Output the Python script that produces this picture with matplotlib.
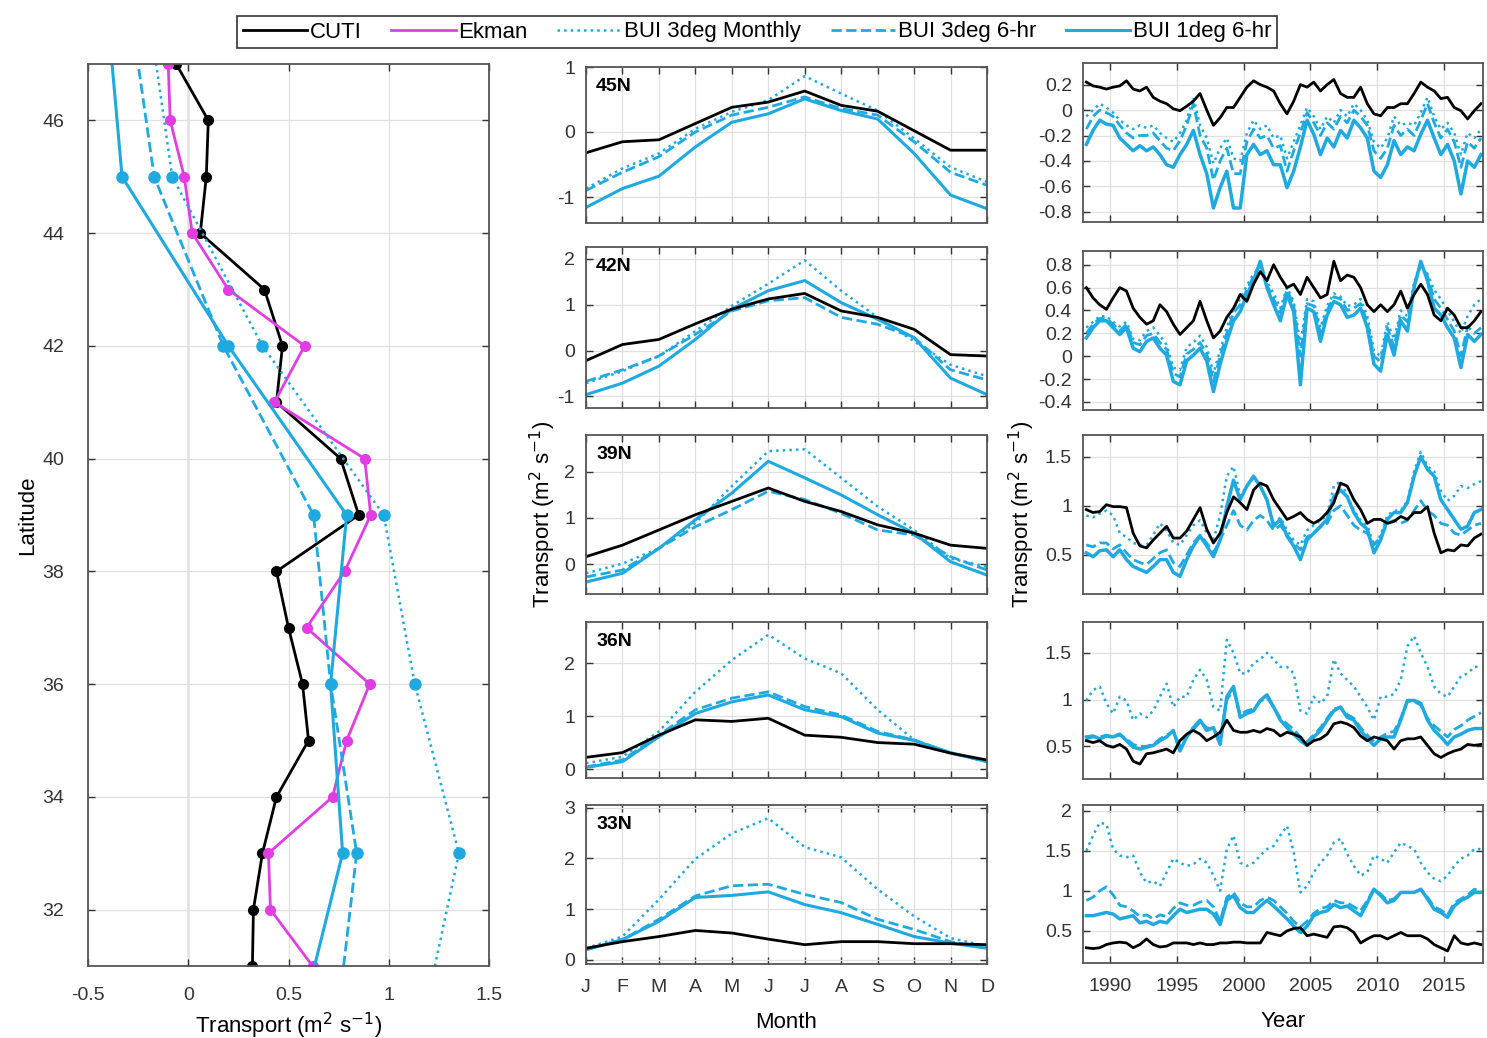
import numpy as np
from matplotlib import pyplot as plt
from matplotlib.lines import Line2D
from matplotlib.ticker import FormatStrFormatter

plt.rcParams['font.family'] = ['Liberation Sans', 'DejaVu Sans']
plt.rcParams['axes.unicode_minus'] = False
plt.rcParams['font.size'] = 14

BLUE = '#1fa9e1'
MAGENTA = '#e23de2'

# ---- left panel: mean transport vs latitude ----
lat_1deg = [31, 32, 33, 34, 35, 36, 37, 38, 39, 40, 41, 42, 43, 44, 45, 46, 47]
cuti_lat = [0.32, 0.325, 0.37, 0.44, 0.60, 0.57, 0.50, 0.44, 0.85, 0.76, 0.44, 0.47, 0.38, 0.06, 0.09, 0.10, -0.06]
ekman_lat = [0.62, 0.41, 0.40, 0.72, 0.79, 0.905, 0.59, 0.78, 0.91, 0.88, 0.43, 0.58, 0.20, 0.02, -0.02, -0.09, -0.10]
lat_3deg = [31, 33, 36, 39, 42, 45, 47]
bui3m_lat = [1.23, 1.35, 1.13, 0.975, 0.37, -0.08, -0.16]
bui3h_lat = [0.775, 0.84, 0.71, 0.625, 0.175, -0.17, -0.25]
bui1h_lat = [0.63, 0.77, 0.71, 0.79, 0.20, -0.33, -0.38]

# ---- middle panels: monthly climatology ----
months = ['J', 'F', 'M', 'A', 'M', 'J', 'J', 'A', 'S', 'O', 'N', 'D']
panel_names = ['45N', '42N', '39N', '36N', '33N']
clim_cuti = [
    [-0.32, -0.15, -0.12, 0.13, 0.38, 0.46, 0.63, 0.41, 0.32, 0.02, -0.28, -0.28],
    [-0.22, 0.13, 0.24, 0.58, 0.90, 1.12, 1.24, 0.86, 0.72, 0.46, -0.09, -0.12],
    [0.16, 0.41, 0.74, 1.07, 1.36, 1.65, 1.36, 1.14, 0.85, 0.67, 0.41, 0.34],
    [0.22, 0.31, 0.64, 0.93, 0.90, 0.96, 0.64, 0.60, 0.50, 0.47, 0.30, 0.17],
    [0.23, 0.36, 0.46, 0.58, 0.53, 0.41, 0.30, 0.36, 0.36, 0.32, 0.32, 0.30],
]
clim_bui3m = [
    [-0.87, -0.56, -0.33, 0.05, 0.31, 0.49, 0.86, 0.59, 0.33, -0.10, -0.54, -0.77],
    [-0.71, -0.45, -0.12, 0.42, 0.97, 1.45, 1.96, 1.30, 0.72, 0.20, -0.31, -0.56],
    [-0.20, 0.01, 0.34, 0.89, 1.69, 2.45, 2.49, 1.87, 1.25, 0.74, 0.12, -0.06],
    [0.11, 0.23, 0.71, 1.46, 2.06, 2.54, 2.09, 1.81, 1.12, 0.55, 0.30, 0.14],
    [0.23, 0.46, 1.19, 1.99, 2.49, 2.79, 2.22, 2.02, 1.39, 0.86, 0.43, 0.27],
]
clim_bui3h = [
    [-0.90, -0.62, -0.38, 0.00, 0.26, 0.38, 0.54, 0.36, 0.26, -0.15, -0.62, -0.82],
    [-0.67, -0.42, -0.12, 0.35, 0.86, 1.08, 1.15, 0.72, 0.57, 0.28, -0.42, -0.64],
    [-0.28, -0.13, 0.34, 0.81, 1.18, 1.58, 1.40, 1.10, 0.74, 0.63, 0.16, -0.13],
    [0.04, 0.17, 0.64, 1.12, 1.34, 1.46, 1.18, 1.02, 0.71, 0.55, 0.30, 0.14],
    [0.20, 0.40, 0.80, 1.26, 1.46, 1.49, 1.29, 1.13, 0.80, 0.60, 0.36, 0.23],
]
clim_bui1h = [
    [-1.16, -0.87, -0.68, -0.23, 0.15, 0.28, 0.51, 0.33, 0.20, -0.33, -0.97, -1.18],
    [-0.96, -0.71, -0.34, 0.24, 0.90, 1.30, 1.52, 1.04, 0.68, 0.28, -0.60, -0.96],
    [-0.39, -0.20, 0.34, 0.96, 1.54, 2.23, 1.87, 1.50, 1.07, 0.67, 0.05, -0.24],
    [0.03, 0.14, 0.61, 1.05, 1.27, 1.40, 1.12, 0.99, 0.68, 0.54, 0.31, 0.14],
    [0.20, 0.40, 0.76, 1.23, 1.27, 1.34, 1.09, 0.93, 0.70, 0.46, 0.33, 0.23],
]
clim_ylims = [(-1.4, 1.0), (-1.25, 2.25), (-0.65, 2.8), (-0.17, 2.78), (-0.08, 3.05)]
clim_yticks = [[-1, 0, 1], [-1, 0, 1, 2], [0, 1, 2], [0, 1, 2], [0, 1, 2, 3]]

# ---- right panels: smoothed time series (half-year samples) ----
years = np.linspace(1988.25, 2017.75, 60)
ts_cuti = [
    [0.22, 0.19, 0.18, 0.165, 0.18, 0.19, 0.23, 0.165, 0.15, 0.18, 0.10, 0.07, 0.05, 0.01, -0.005, 0.03, 0.07, 0.13, 0.0, -0.12,
     -0.06, 0.02, 0.02, 0.10, 0.18, 0.23, 0.20, 0.18, 0.15, 0.05, -0.03, 0.07, 0.20, 0.18, 0.22, 0.15, 0.20, 0.24, 0.13, 0.10,
     0.10, 0.18, 0.05, -0.03, -0.045, 0.02, 0.02, 0.05, 0.05, 0.13, 0.22, 0.18, 0.15, 0.09, 0.10, 0.02, -0.005, -0.07, -0.005, 0.05],
    [0.60, 0.51, 0.45, 0.41, 0.51, 0.60, 0.57, 0.42, 0.34, 0.28, 0.31, 0.45, 0.39, 0.28, 0.19, 0.25, 0.31, 0.48, 0.31, 0.16,
     0.22, 0.34, 0.42, 0.54, 0.48, 0.63, 0.74, 0.66, 0.80, 0.69, 0.60, 0.63, 0.54, 0.69, 0.60, 0.51, 0.54, 0.83, 0.66, 0.71,
     0.69, 0.60, 0.45, 0.39, 0.45, 0.39, 0.45, 0.57, 0.42, 0.54, 0.63, 0.54, 0.36, 0.31, 0.42, 0.36, 0.25, 0.25, 0.31, 0.39],
    [0.96, 0.93, 0.94, 1.01, 0.99, 0.99, 0.98, 0.72, 0.59, 0.57, 0.65, 0.72, 0.79, 0.67, 0.67, 0.74, 0.86, 0.98, 0.76, 0.62,
     0.72, 0.93, 1.09, 1.03, 0.96, 1.16, 1.23, 1.20, 1.06, 0.96, 0.86, 0.89, 0.93, 0.86, 0.82, 0.86, 0.93, 1.03, 1.23, 1.20,
     1.06, 0.96, 0.82, 0.86, 0.86, 0.82, 0.84, 0.89, 0.86, 0.93, 0.93, 0.99, 0.72, 0.52, 0.55, 0.54, 0.60, 0.59, 0.67, 0.71],
    [0.56, 0.54, 0.56, 0.51, 0.49, 0.52, 0.47, 0.34, 0.31, 0.42, 0.43, 0.45, 0.47, 0.43, 0.56, 0.63, 0.67, 0.63, 0.56, 0.60,
     0.65, 0.78, 0.67, 0.65, 0.65, 0.67, 0.65, 0.69, 0.67, 0.61, 0.65, 0.63, 0.60, 0.51, 0.56, 0.58, 0.63, 0.74, 0.76, 0.74,
     0.70, 0.61, 0.56, 0.60, 0.58, 0.56, 0.47, 0.56, 0.58, 0.58, 0.60, 0.51, 0.42, 0.38, 0.42, 0.45, 0.47, 0.52, 0.51, 0.52],
    [0.29, 0.28, 0.29, 0.33, 0.35, 0.36, 0.35, 0.29, 0.33, 0.40, 0.33, 0.30, 0.31, 0.35, 0.35, 0.35, 0.33, 0.35, 0.33, 0.33,
     0.35, 0.35, 0.36, 0.36, 0.35, 0.35, 0.35, 0.48, 0.46, 0.44, 0.50, 0.53, 0.54, 0.44, 0.46, 0.44, 0.42, 0.55, 0.56, 0.54,
     0.48, 0.35, 0.40, 0.44, 0.44, 0.40, 0.44, 0.48, 0.44, 0.44, 0.44, 0.40, 0.33, 0.29, 0.25, 0.44, 0.35, 0.33, 0.35, 0.33],
]
ts_bui3m = [
    [-0.05, 0.0, 0.05, 0.02, -0.02, -0.08, -0.12, -0.15, -0.12, -0.14, -0.12, -0.18, -0.22, -0.25, -0.18, -0.08, 0.10, -0.12, -0.22, -0.42,
     -0.30, -0.22, -0.38, -0.40, -0.18, -0.08, -0.15, -0.12, -0.22, -0.20, -0.38, -0.25, -0.12, 0.02, -0.05, -0.15, -0.05, -0.10, 0.0, -0.05,
     0.05, 0.0, -0.08, -0.25, -0.30, -0.22, -0.05, -0.12, -0.10, -0.12, -0.02, 0.10, -0.05, -0.15, -0.10, -0.18, -0.35, -0.18, -0.22, -0.15],
    [0.25, 0.30, 0.35, 0.35, 0.30, 0.26, 0.30, 0.15, 0.14, 0.22, 0.25, 0.18, 0.10, -0.10, -0.12, 0.08, 0.12, 0.18, 0.08, -0.15,
     0.05, 0.25, 0.42, 0.50, 0.62, 0.72, 0.78, 0.65, 0.55, 0.42, 0.60, 0.48, 0.10, 0.50, 0.48, 0.25, 0.44, 0.55, 0.52, 0.44,
     0.45, 0.50, 0.35, 0.05, 0.0, 0.30, 0.15, 0.40, 0.35, 0.65, 0.80, 0.72, 0.58, 0.50, 0.40, 0.30, 0.20, 0.35, 0.45, 0.50],
    [0.90, 0.88, 0.92, 0.95, 0.90, 0.72, 0.68, 0.62, 0.60, 0.60, 0.70, 0.82, 0.75, 0.62, 0.60, 0.70, 0.80, 0.85, 0.72, 0.65,
     0.90, 1.30, 1.40, 1.10, 1.20, 1.28, 1.20, 1.05, 0.82, 0.88, 0.75, 0.65, 0.60, 0.75, 0.80, 0.85, 0.90, 1.20, 1.25, 1.10,
     0.95, 0.85, 0.80, 0.60, 0.70, 0.90, 0.95, 0.95, 1.05, 1.35, 1.55, 1.40, 1.35, 1.15, 1.05, 1.10, 1.20, 1.18, 1.22, 1.25],
    [0.99, 1.10, 1.14, 0.96, 0.85, 1.03, 0.99, 0.78, 0.85, 0.81, 0.88, 1.03, 1.17, 0.92, 1.03, 1.03, 1.21, 1.32, 1.21, 0.92,
     0.88, 1.64, 1.50, 1.28, 1.28, 1.39, 1.43, 1.50, 1.43, 1.35, 1.35, 1.28, 0.88, 0.85, 1.03, 0.96, 1.03, 1.43, 1.28, 1.21,
     1.14, 1.03, 0.92, 0.78, 1.03, 1.03, 1.06, 1.21, 1.57, 1.68, 1.50, 1.35, 1.14, 1.06, 1.03, 1.14, 1.25, 1.28, 1.35, 1.35],
    [1.50, 1.69, 1.85, 1.83, 1.52, 1.44, 1.42, 1.44, 1.23, 1.10, 1.12, 1.06, 1.23, 1.40, 1.35, 1.31, 1.33, 1.40, 1.35, 1.19,
     1.00, 1.52, 1.69, 1.35, 1.31, 1.35, 1.44, 1.52, 1.56, 1.69, 1.81, 1.48, 0.98, 1.06, 1.23, 1.35, 1.44, 1.60, 1.65, 1.46,
     1.31, 1.19, 1.23, 1.44, 1.40, 1.35, 1.48, 1.60, 1.56, 1.52, 1.35, 1.23, 1.15, 1.12, 1.19, 1.31, 1.40, 1.44, 1.52, 1.52],
]
ts_bui3h = [
    [-0.15, -0.05, 0.0, -0.02, -0.05, -0.12, -0.18, -0.22, -0.20, -0.20, -0.18, -0.24, -0.30, -0.32, -0.24, -0.12, 0.05, -0.20, -0.30, -0.55,
     -0.40, -0.30, -0.50, -0.50, -0.25, -0.15, -0.22, -0.20, -0.30, -0.28, -0.48, -0.32, -0.18, -0.02, -0.10, -0.20, -0.10, -0.15, -0.05, -0.10,
     0.0, -0.05, -0.12, -0.32, -0.38, -0.30, -0.12, -0.20, -0.15, -0.20, -0.08, 0.05, -0.10, -0.22, -0.15, -0.25, -0.45, -0.25, -0.30, -0.22],
    [0.20, 0.28, 0.33, 0.33, 0.28, 0.22, 0.28, 0.12, 0.10, 0.18, 0.20, 0.12, 0.06, -0.15, -0.18, 0.02, 0.06, 0.12, 0.02, -0.22,
     0.0, 0.20, 0.38, 0.45, 0.58, 0.70, 0.80, 0.62, 0.50, 0.38, 0.58, 0.45, 0.0, 0.46, 0.44, 0.20, 0.40, 0.52, 0.50, 0.40,
     0.42, 0.46, 0.30, 0.0, -0.05, 0.25, 0.08, 0.36, 0.30, 0.62, 0.80, 0.70, 0.50, 0.42, 0.32, 0.22, 0.0, 0.26, 0.20, 0.25],
    [0.60, 0.58, 0.62, 0.62, 0.56, 0.60, 0.52, 0.45, 0.42, 0.40, 0.46, 0.52, 0.55, 0.42, 0.38, 0.50, 0.62, 0.70, 0.62, 0.52,
     0.65, 0.80, 0.95, 0.80, 0.75, 0.85, 0.90, 0.85, 0.75, 0.80, 0.70, 0.62, 0.55, 0.68, 0.72, 0.78, 0.82, 0.95, 1.00, 0.90,
     0.80, 0.75, 0.72, 0.60, 0.68, 0.82, 0.85, 0.82, 0.85, 0.95, 1.05, 0.95, 0.90, 0.82, 0.80, 0.72, 0.70, 0.75, 0.80, 0.82],
    [0.58, 0.60, 0.60, 0.62, 0.60, 0.62, 0.58, 0.52, 0.50, 0.50, 0.52, 0.58, 0.62, 0.66, 0.50, 0.60, 0.68, 0.76, 0.70, 0.68,
     0.58, 1.00, 1.10, 0.84, 0.88, 0.90, 0.98, 1.02, 0.92, 0.80, 0.74, 0.68, 0.60, 0.55, 0.62, 0.70, 0.80, 0.90, 0.92, 0.84,
     0.80, 0.70, 0.62, 0.55, 0.60, 0.64, 0.66, 0.80, 0.98, 0.98, 0.94, 0.80, 0.72, 0.66, 0.60, 0.68, 0.72, 0.78, 0.82, 0.86],
    [0.88, 0.92, 1.00, 1.05, 0.95, 0.82, 0.80, 0.75, 0.68, 0.70, 0.65, 0.70, 0.68, 0.78, 0.85, 0.82, 0.82, 0.86, 0.88, 0.80,
     0.62, 0.92, 0.98, 0.85, 0.80, 0.80, 0.88, 0.92, 0.88, 0.80, 0.72, 0.62, 0.55, 0.62, 0.72, 0.78, 0.80, 0.88, 0.85, 0.85,
     0.80, 0.75, 0.88, 1.02, 0.96, 0.88, 0.90, 0.98, 0.98, 0.98, 1.02, 0.92, 0.80, 0.76, 0.70, 0.85, 0.90, 0.95, 1.02, 1.00],
]
ts_bui1h = [
    [-0.27, -0.16, -0.08, -0.11, -0.12, -0.22, -0.27, -0.32, -0.28, -0.32, -0.29, -0.35, -0.43, -0.45, -0.35, -0.27, -0.16, -0.35, -0.50, -0.77,
     -0.61, -0.48, -0.77, -0.77, -0.35, -0.27, -0.35, -0.32, -0.43, -0.43, -0.61, -0.48, -0.29, -0.08, -0.19, -0.35, -0.22, -0.29, -0.16, -0.22,
     -0.08, -0.14, -0.22, -0.48, -0.53, -0.43, -0.24, -0.35, -0.29, -0.32, -0.19, -0.08, -0.22, -0.35, -0.27, -0.40, -0.66, -0.40, -0.45, -0.35],
    [0.16, 0.25, 0.31, 0.31, 0.25, 0.19, 0.25, 0.07, 0.04, 0.13, 0.16, 0.07, 0.01, -0.22, -0.25, -0.04, 0.01, 0.07, -0.04, -0.31,
     -0.07, 0.13, 0.31, 0.39, 0.54, 0.66, 0.83, 0.60, 0.45, 0.31, 0.54, 0.39, -0.25, 0.42, 0.39, 0.13, 0.36, 0.48, 0.45, 0.34,
     0.36, 0.42, 0.25, -0.07, -0.13, 0.19, 0.01, 0.31, 0.22, 0.60, 0.83, 0.66, 0.42, 0.36, 0.25, 0.16, -0.10, 0.19, 0.13, 0.19],
    [0.52, 0.48, 0.54, 0.55, 0.48, 0.55, 0.45, 0.38, 0.35, 0.32, 0.38, 0.45, 0.45, 0.32, 0.28, 0.45, 0.59, 0.69, 0.59, 0.48,
     0.65, 0.99, 1.26, 1.06, 1.20, 1.30, 1.20, 1.06, 0.79, 0.86, 0.69, 0.59, 0.45, 0.65, 0.72, 0.79, 0.86, 1.09, 1.16, 1.09,
     0.93, 0.82, 0.76, 0.52, 0.65, 0.86, 0.93, 0.93, 1.03, 1.30, 1.50, 1.37, 1.30, 1.06, 0.96, 0.86, 0.76, 0.79, 0.93, 0.96],
    [0.60, 0.61, 0.58, 0.61, 0.60, 0.63, 0.56, 0.49, 0.47, 0.49, 0.51, 0.56, 0.60, 0.67, 0.45, 0.60, 0.70, 0.78, 0.67, 0.70,
     0.52, 1.03, 1.14, 0.81, 0.85, 0.88, 0.99, 1.05, 0.92, 0.78, 0.70, 0.63, 0.56, 0.51, 0.60, 0.67, 0.78, 0.88, 0.92, 0.81,
     0.78, 0.67, 0.58, 0.51, 0.58, 0.60, 0.60, 0.78, 0.99, 0.99, 0.96, 0.78, 0.67, 0.60, 0.52, 0.60, 0.63, 0.67, 0.69, 0.69],
    [0.69, 0.69, 0.71, 0.73, 0.71, 0.65, 0.67, 0.69, 0.60, 0.62, 0.58, 0.62, 0.60, 0.69, 0.77, 0.73, 0.75, 0.77, 0.77, 0.71,
     0.58, 0.88, 0.94, 0.79, 0.73, 0.73, 0.81, 0.88, 0.81, 0.73, 0.65, 0.56, 0.48, 0.56, 0.69, 0.73, 0.75, 0.83, 0.79, 0.81,
     0.75, 0.69, 0.85, 1.02, 0.94, 0.85, 0.88, 0.98, 0.98, 0.98, 1.02, 0.90, 0.77, 0.73, 0.67, 0.81, 0.88, 0.92, 0.98, 0.98],
]
ts_ylims = [(-0.88, 0.37), (-0.47, 0.92), (0.1, 1.72), (0.15, 1.83), (0.1, 2.07)]
ts_yticks = [[-0.8, -0.6, -0.4, -0.2, 0, 0.2], [-0.4, -0.2, 0, 0.2, 0.4, 0.6, 0.8],
             [0.5, 1, 1.5], [0.5, 1, 1.5], [0.5, 1, 1.5, 2]]

# colour, linestyle, linewidth per series
styles = {
    'CUTI': ('black', '-', 2.0),
    'Ekman': (MAGENTA, '-', 2.0),
    'BUI 3deg Monthly': (BLUE, ':', 1.8),
    'BUI 3deg 6-hr': (BLUE, '--', 2.0),
    'BUI 1deg 6-hr': (BLUE, '-', 2.2),
}
TRANSPORT = 'Transport (m$^2$ s$^{-1}$)'


def matlab_box(ax, xpad=11, ypad=8):
    ax.grid(True, color='#e0e0e0', lw=0.9)
    ax.set_axisbelow(True)
    ax.tick_params(direction='in', top=True, right=True, length=5, width=1.0,
                   colors='#333333', labelsize=14)
    ax.tick_params(axis='x', pad=xpad)
    ax.tick_params(axis='y', pad=ypad)
    for s in ax.spines.values():
        s.set_color('#555555')
        s.set_linewidth(1.3)


def set_ylabel_at(ax, text, x):
    ax.set_ylabel(text, fontsize=16, va='center')
    ax.yaxis.set_label_coords(x, 0.5)


def set_xlabel_at(ax, text, y):
    ax.set_xlabel(text, fontsize=16, va='center')
    ax.xaxis.set_label_coords(0.5, y)


def plot_latitude(ax):
    c, ls, lw = styles['CUTI']
    ax.plot(cuti_lat, lat_1deg, color=c, ls=ls, lw=lw, marker='o', ms=7)
    c, ls, lw = styles['Ekman']
    ax.plot(ekman_lat, lat_1deg, color=c, ls=ls, lw=lw, marker='o', ms=7)
    for name, vals in [('BUI 3deg Monthly', bui3m_lat), ('BUI 3deg 6-hr', bui3h_lat), ('BUI 1deg 6-hr', bui1h_lat)]:
        c, ls, lw = styles[name]
        ax.plot(vals, lat_3deg, color=c, ls=ls, lw=lw, marker='o', ms=8, markevery=slice(1, 6))
    ax.axvline(0, color='#999999', lw=1.0, zorder=0.5)
    ax.set_xlim(-0.5, 1.5)
    ax.set_ylim(31, 47)
    ax.set_xticks([-0.5, 0, 0.5, 1, 1.5])
    ax.set_xticklabels(['-0.5', '0', '0.5', '1', '1.5'])
    ax.set_yticks(range(32, 47, 2))
    matlab_box(ax, xpad=15, ypad=17)
    set_xlabel_at(ax, TRANSPORT, -0.066)
    set_ylabel_at(ax, 'Latitude', -0.15)


def plot_climatology(ax, i):
    m = np.arange(1, 13)
    for name, data in [('BUI 3deg Monthly', clim_bui3m), ('BUI 3deg 6-hr', clim_bui3h),
                       ('BUI 1deg 6-hr', clim_bui1h), ('CUTI', clim_cuti)]:
        c, ls, lw = styles[name]
        ax.plot(m, data[i], color=c, ls=ls, lw=lw)
    ax.set_xlim(1, 12)
    ax.set_ylim(*clim_ylims[i])
    ax.set_yticks(clim_yticks[i])
    ax.set_xticks(m)
    matlab_box(ax)
    if i == 4:
        ax.set_xticklabels(months)
        set_xlabel_at(ax, 'Month', -0.365)
    else:
        ax.set_xticklabels([])
    if i == 2:
        set_ylabel_at(ax, TRANSPORT, -0.107)
    ax.text(0.025, 0.93, panel_names[i], transform=ax.transAxes, fontsize=14,
            fontweight='bold', va='top', ha='left')


def plot_timeseries(ax, i):
    for name, data in [('BUI 3deg Monthly', ts_bui3m), ('BUI 3deg 6-hr', ts_bui3h),
                       ('BUI 1deg 6-hr', ts_bui1h), ('CUTI', ts_cuti)]:
        c, ls, lw = styles[name]
        if name == 'BUI 1deg 6-hr':
            lw = 2.5
        ax.plot(years, data[i], color=c, ls=ls, lw=lw)
    ax.set_xlim(1988, 2017.9)
    ax.set_ylim(*ts_ylims[i])
    ax.set_yticks(ts_yticks[i])
    ax.yaxis.set_major_formatter(FormatStrFormatter('%g'))
    ax.set_xticks([1990, 1995, 2000, 2005, 2010, 2015])
    matlab_box(ax)
    if i == 4:
        set_xlabel_at(ax, 'Year', -0.373)
    else:
        ax.set_xticklabels([])
    if i == 2:
        set_ylabel_at(ax, TRANSPORT, -0.153)


W, H = 1487, 1038
fig = plt.figure(figsize=(W / 100, H / 100), dpi=100)


def px_axes(x0, x1, y0, y1):
    return fig.add_axes([x0 / W, 1 - y1 / H, (x1 - x0) / W, (y1 - y0) / H])


ax_left = px_axes(88, 489, 64, 966)
plot_latitude(ax_left)

mid_rows = [(67, 223), (247, 408), (435, 594), (622, 778), (805, 964)]
right_rows = [(63, 222), (251, 410), (435, 594), (622, 779), (805, 963)]
for i in range(5):
    plot_climatology(px_axes(586, 987, *mid_rows[i]), i)
    plot_timeseries(px_axes(1083, 1483, *right_rows[i]), i)

handles = []
for name in styles:
    c, ls, lw = styles[name]
    handles.append(Line2D([], [], color=c, ls=ls, lw=lw))
leg = fig.legend(handles, list(styles.keys()), loc='center', ncol=5,
                 bbox_to_anchor=(757 / W, 1 - 32 / H), fontsize=16, frameon=True,
                 fancybox=False, edgecolor='black', handlelength=2.9, handletextpad=0.1,
                 columnspacing=1.35, borderpad=0.25, borderaxespad=0)
leg.get_frame().set_linewidth(1.2)

fig.savefig('out.png', dpi=100)
